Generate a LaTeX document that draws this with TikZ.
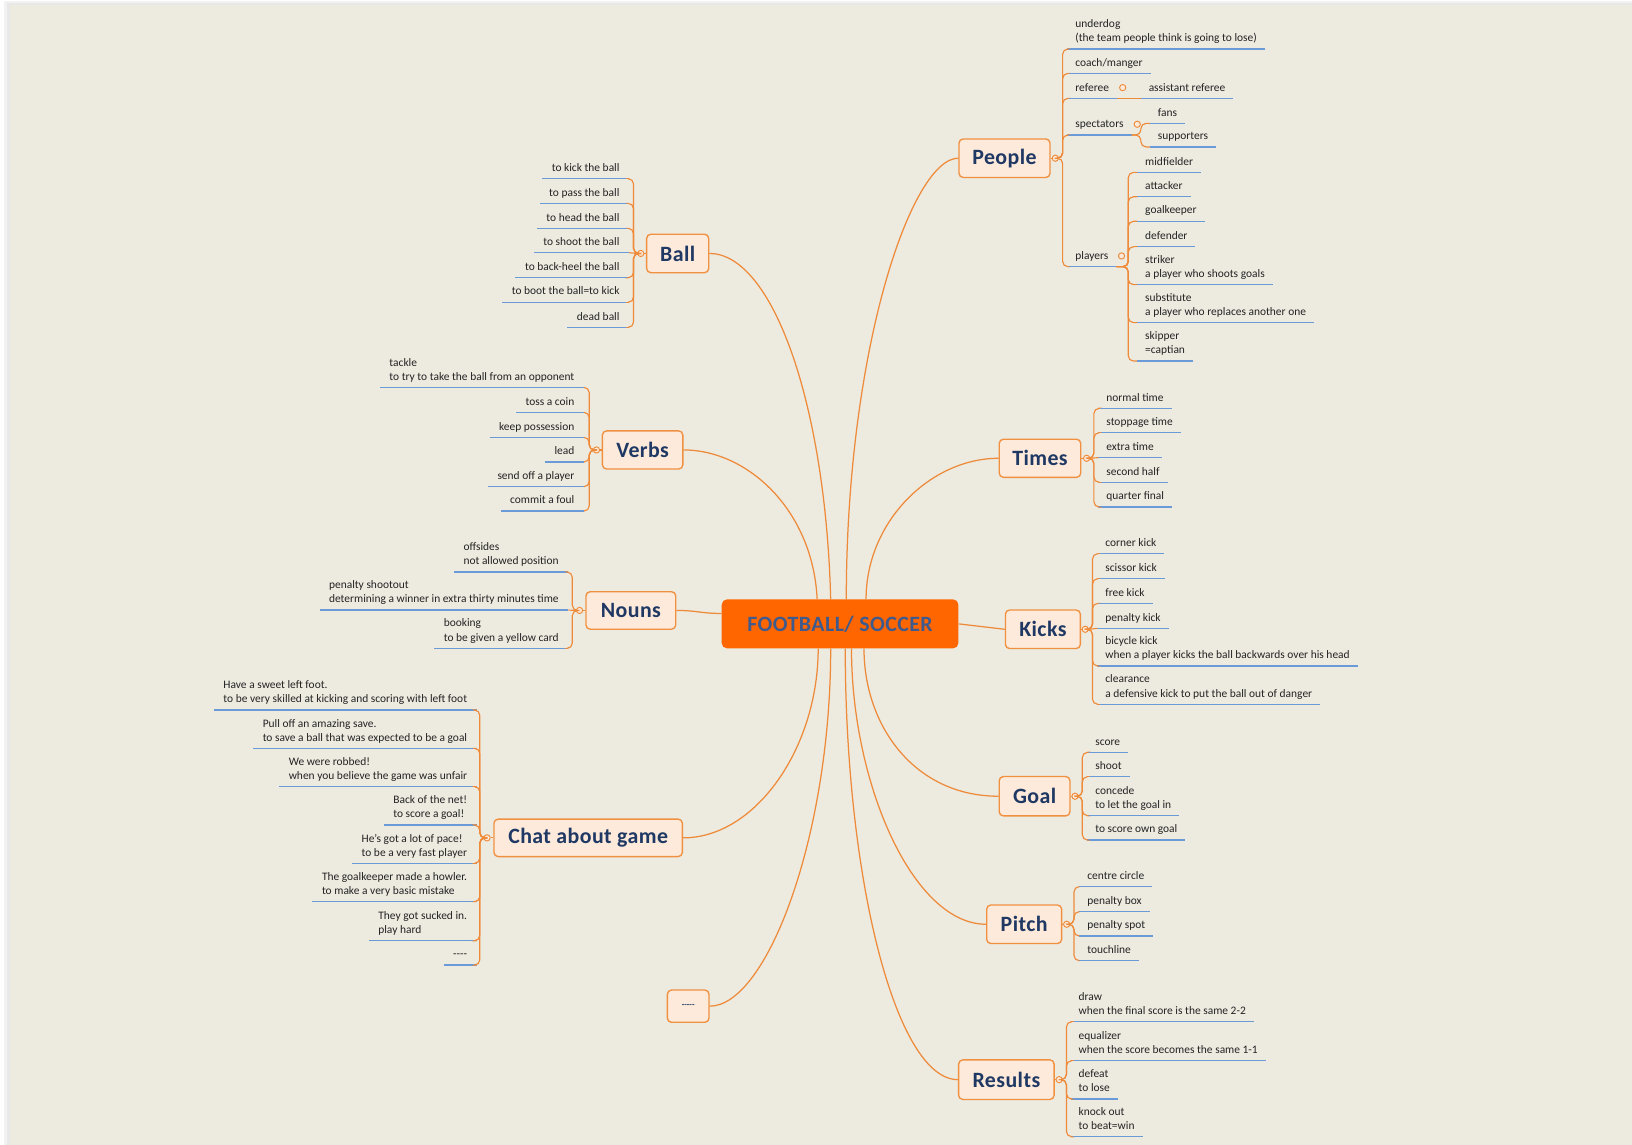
\documentclass[tikz,border=0pt]{standalone}
\usepackage{fontspec}
\setmainfont{Carlito}
\newfontfamily\topicfont[LetterSpace=2]{Carlito}
\usetikzlibrary{calc}
\definecolor{bg}{RGB}{237,234,224}
\definecolor{org}{RGB}{238,139,58}
\definecolor{ulc}{RGB}{106,155,216}
\definecolor{tfill}{RGB}{253,234,218}
\definecolor{tborder}{RGB}{240,145,65}
\definecolor{navy}{RGB}{31,56,100}
\definecolor{cfill}{RGB}{255,102,0}
\definecolor{ctext}{RGB}{63,90,140}
\definecolor{kidtext}{RGB}{35,35,35}
\tikzset{
 topic/.style={draw=tborder, line width=1.3pt, fill=tfill, rounded corners=4pt, font=\topicfont\fontsize{21}{24}\selectfont\bfseries, text=navy, inner sep=0pt},
 central/.style={fill=cfill, rounded corners=5pt, font=\topicfont\fontsize{21}{24}\selectfont\bfseries, text=ctext, inner sep=0pt, minimum width=227.4pt, minimum height=47pt},
 kid/.style={inner ysep=2.75pt, align=left, font=\fontsize{11}{13.5}\selectfont, text=kidtext},
 kidR/.style={kid, anchor=south west, inner xsep=7.5pt},
 kidL/.style={kid, anchor=south east, inner xsep=9pt},
 uline/.style={draw=ulc, line width=1.2pt},
 br/.style={draw=org, line width=1.1pt, rounded corners=5pt},
 mainline/.style={draw=org, line width=1.2pt},
 knob/.style={circle, draw=org, fill=tfill, line width=0.9pt, minimum size=6pt, inner sep=0pt},
}
\newcommand\kidr[4]{\node[kidR] (#1) at (#2,#3) {#4\strut}; \draw[uline] (#1.south west) -- (#1.south east);}
\newcommand\kidl[4]{\node[kidL] (#1) at (#2,#3) {#4\strut}; \draw[uline] (#1.south west) -- (#1.south east);}
\newcommand\brR[2]{\draw[br] (#1.east) -- ([xshift=7pt]#1.center) |- (#2.south west);}
\newcommand\brL[2]{\draw[br] (#1.west) -- ([xshift=-7pt]#1.center) |- (#2.south east);}
\begin{document}
\begin{tikzpicture}[x=1pt,y=-1pt]
\useasboundingbox (0,0) rectangle (1568,1100);
\fill[white] (0,0) rectangle (1568,1100);
\fill[black!5] (4,1) rectangle (1568,1100);
\fill[black!9] (7,3) rectangle (1568,1100);
\fill[bg] (9.5,5) rectangle (1568,1100);

% ---------- main nodes
\node[central] (c) at (807.1,599.4) {FOOTBALL/ SOCCER};
\node[topic, minimum width=87.4pt, minimum height=37pt] (people) at (965.1,152) {People};
\node[topic, minimum width=59.6pt, minimum height=37pt] (ball) at (651.1,243.5) {Ball};
\node[topic, minimum width=77.3pt, minimum height=36.6pt] (verbs) at (617.4,432.3) {Verbs};
\node[topic, minimum width=86.2pt, minimum height=36pt] (nouns) at (606.1,586.5) {Nouns};
\node[topic, minimum width=181pt, minimum height=36pt] (chat) at (565.1,805) {Chat about game};
\node[topic, minimum width=40pt, minimum height=31pt, font=\fontsize{8}{9}\selectfont\bfseries] (dash) at (661.2,966.7) {-{}-{}-{}-{}-};
\node[topic, minimum width=78.3pt, minimum height=36.6pt] (times) at (999.2,440.3) {Times};
\node[topic, minimum width=72pt, minimum height=37pt] (kicks) at (1002,604.6) {Kicks};
\node[topic, minimum width=68pt, minimum height=37.8pt] (goal) at (994,765) {Goal};
\node[topic, minimum width=72pt, minimum height=37pt] (pitch) at (984,888) {Pitch};
\node[topic, minimum width=91.7pt, minimum height=38pt] (results) at (966.9,1037.3) {Results};

% ---------- main connectors
\draw[mainline] (ball.east) .. controls +(60,0) and +(-5,-190) .. ([xshift=-9pt]c.north);
\draw[mainline] (verbs.east) .. controls +(62,0) and +(-4,-85) .. ([xshift=-22pt]c.north);
\draw[mainline] (people.west) .. controls +(-45,0) and +(0,-240) .. ([xshift=6pt]c.north);
\draw[mainline] (times.west) .. controls +(-65,0) and +(0,-75) .. ([xshift=25pt]c.north);
\draw[mainline] (nouns.east) .. controls +(20,0) and +(-20,0) .. ([yshift=10pt]c.west);
\draw[mainline] (c.east) -- (kicks.west);
\draw[mainline] (chat.east) .. controls +(70,0) and +(0,95) .. ([xshift=-21pt]c.south);
\draw[mainline] (dash.east) .. controls +(55,0) and +(0,180) .. ([xshift=-9pt]c.south);
\draw[mainline] (results.west) .. controls +(-60,0) and +(0,220) .. ([xshift=5pt]c.south);
\draw[mainline] (pitch.west) .. controls +(-70,0) and +(0,130) .. ([xshift=11pt]c.south);
\draw[mainline] (goal.west) .. controls +(-80,0) and +(0,75) .. ([xshift=23pt]c.south);

% ---------- People
\node[knob] (pc) at ([xshift=4.5pt]people.east) {};
\draw[br] (people.east) -- (pc.west);
\kidr{pe1}{1025.5}{47.1}{underdog\\(the team people think is going to lose)}
\kidr{pe2}{1025.5}{70.5}{coach/manger}
\kidr{pe3}{1025.5}{94.5}{referee}
\kidr{pe4}{1025.5}{129.7}{spectators}
\kidr{pe5}{1025.5}{256.2}{players}
\foreach \k in {pe1,pe2,pe3,pe4,pe5} {\brR{pc}{\k}}
\node[kidR] (ar) at (1096,94.5) {assistant referee\strut};
\draw[uline] (ar.south west) -- (ar.south east);
\draw[br] (pe3.south east) -- (ar.south west);
\node[knob] (rc) at ([xshift=5.5pt,yshift=10.3pt]pe3.south east) {};
\kidr{fa}{1104.7}{118.5}{fans}
\kidr{su}{1104.7}{141.2}{supporters}
\draw[br] (pe4.south east) -- ([xshift=9pt]pe4.south east) |- (fa.south west);
\draw[br] (pe4.south east) -- ([xshift=9pt]pe4.south east) |- (su.south west);
\node[knob] (sc) at ([xshift=5.5pt,yshift=10.3pt]pe4.south east) {};
\kidr{pl1}{1092.6}{165.6}{midfielder}
\kidr{pl2}{1092.6}{189}{attacker}
\kidr{pl3}{1092.6}{212.6}{goalkeeper}
\kidr{pl4}{1092.6}{237}{defender}
\kidr{pl5}{1092.6}{273.5}{striker\\a player who shoots goals}
\kidr{pl6}{1092.6}{310}{substitute\\a player who replaces another one}
\kidr{pl7}{1092.6}{346.9}{skipper\\=captian}
\foreach \k in {pl1,pl2,pl3,pl4,pl5,pl6,pl7} {\draw[br] (pe5.south east) -- ([xshift=11.5pt]pe5.south east) |- (\k.south west);}
\node[knob] (plc) at ([xshift=5pt,yshift=10.3pt]pe5.south east) {};

% ---------- Ball
\node[knob] (bc) at ([xshift=-5pt]ball.west) {};
\draw[br] (ball.west) -- (bc.east);
\kidl{b1}{604.4}{171.7}{to kick the ball}
\kidl{b2}{604.4}{195.4}{to pass the ball}
\kidl{b3}{604.4}{219.4}{to head the ball}
\kidl{b4}{604.4}{242.8}{to shoot the ball}
\kidl{b5}{604.4}{266.8}{to back-heel the ball}
\kidl{b6}{604.4}{290.4}{to boot the ball=to kick}
\kidl{b7}{604.4}{314.5}{dead ball}
\foreach \k in {b1,b2,b3,b5,b6,b7} {\brL{bc}{\k}}
\draw[br] (bc.west) -- (b4.south east);

% ---------- Verbs
\node[knob] (vc) at ([xshift=-5pt]verbs.west) {};
\draw[br] (verbs.west) -- (vc.east);
\kidl{v1}{561}{372.2}{tackle\\to try to take the ball from an opponent}
\kidl{v2}{561}{396.2}{toss a coin}
\kidl{v3}{561}{420.2}{keep possession}
\kidl{v4}{561}{443.9}{lead}
\kidl{v5}{561}{467.6}{send off a player}
\kidl{v6}{561}{491}{commit a foul}
\foreach \k in {v1,v2,v3,v4,v5,v6} {\brL{vc}{\k}}

% ---------- Nouns
\node[knob] (nc) at ([xshift=-5.5pt]nouns.west) {};
\draw[br] (nouns.west) -- (nc.east);
\kidl{n1}{546}{549.6}{offsides\\not allowed position}
\kidl{n2}{546}{586.1}{penalty shootout\\determining a winner in extra thirty minutes time}
\kidl{n3}{546}{622.9}{booking\\to be given a yellow card}
\foreach \k in {n1,n3} {\brL{nc}{\k}}
\draw[br] (nc.west) -- (n2.south east);

% ---------- Chat
\node[knob] (hc) at ([xshift=-6pt]chat.west) {};
\draw[br] (chat.west) -- (hc.east);
\kidl{h1}{458}{682.2}{Have a sweet left foot.\\to be very skilled at kicking and scoring with left foot}
\kidl{h2}{458}{719}{Pull off an amazing save.\\to save a ball that was expected to be a goal}
\kidl{h3}{458}{755.8}{We were robbed!\\when you believe the game was unfair}
\kidl{h4}{458}{792.7}{Back of the net!\\to score a goal!}
\kidl{h5}{458}{829.5}{He's got a lot of pace!\\to be a very fast player}
\kidl{h6}{458}{866.3}{The goalkeeper made a howler.\\to make a very basic mistake}
\kidl{h7}{458}{903.8}{They got sucked in.\\play hard}
\kidl{h8}{458}{927.2}{-{}-{}-{}-}
\foreach \k in {h1,h2,h3,h4,h5,h6,h7,h8} {\brL{hc}{\k}}

% ---------- Times
\node[knob] (tc) at ([xshift=5pt]times.east) {};
\draw[br] (times.east) -- (tc.west);
\kidr{t1}{1055.3}{392.3}{normal time}
\kidr{t2}{1055.3}{415.7}{stoppage time}
\kidr{t3}{1055.3}{439.7}{extra time}
\kidr{t4}{1055.3}{463.4}{second half}
\kidr{t5}{1055.3}{487.1}{quarter final}
\foreach \k in {t1,t2,t4,t5} {\brR{tc}{\k}}
\draw[br] (tc.east) -- (t3.south west);

% ---------- Kicks
\node[knob] (kc) at ([xshift=4pt]kicks.east) {};
\draw[br] (kicks.east) -- (kc.west);
\kidr{k1}{1054.3}{532}{corner kick}
\kidr{k2}{1054.3}{556}{scissor kick}
\kidr{k3}{1054.3}{579.7}{free kick}
\kidr{k4}{1054.3}{603.7}{penalty kick}
\kidr{k5}{1054.3}{639.9}{bicycle kick\\when a player kicks the ball backwards over his head}
\kidr{k6}{1054.3}{676.7}{clearance\\a defensive kick to put the ball out of danger}
\foreach \k in {k1,k2,k3,k5,k6} {\brR{kc}{\k}}
\draw[br] (kc.east) -- (k4.south west);

% ---------- Goal
\node[knob] (gc) at ([xshift=4.2pt]goal.east) {};
\draw[br] (goal.east) -- (gc.west);
\kidr{g1}{1044.7}{722.8}{score}
\kidr{g2}{1044.7}{746.2}{shoot}
\kidr{g3}{1044.7}{783.7}{concede\\to let the goal in}
\kidr{g4}{1044.7}{807.1}{to score own goal}
\foreach \k in {g1,g2,g3,g4} {\brR{gc}{\k}}

% ---------- Pitch
\node[knob] (ptc) at ([xshift=4.2pt]pitch.east) {};
\draw[br] (pitch.east) -- (ptc.west);
\kidr{p1}{1037}{851.9}{centre circle}
\kidr{p2}{1037}{875.9}{penalty box}
\kidr{p3}{1037}{899.3}{penalty spot}
\kidr{p4}{1037}{923}{touchline}
\foreach \k in {p1,p2,p3,p4} {\brR{ptc}{\k}}

% ---------- Results
\node[knob] (rsc) at ([xshift=4.2pt]results.east) {};
\draw[br] (results.east) -- (rsc.west);
\kidr{r1}{1028.7}{981.6}{draw\\when the final score is the same 2-2}
\kidr{r2}{1028.7}{1019.1}{equalizer\\when the score becomes the same 1-1}
\kidr{r3}{1028.7}{1055.9}{defeat\\to lose}
\kidr{r4}{1028.7}{1092.1}{knock out\\to beat=win}
\foreach \k in {r1,r2,r3,r4} {\brR{rsc}{\k}}
\end{tikzpicture}
\end{document}
